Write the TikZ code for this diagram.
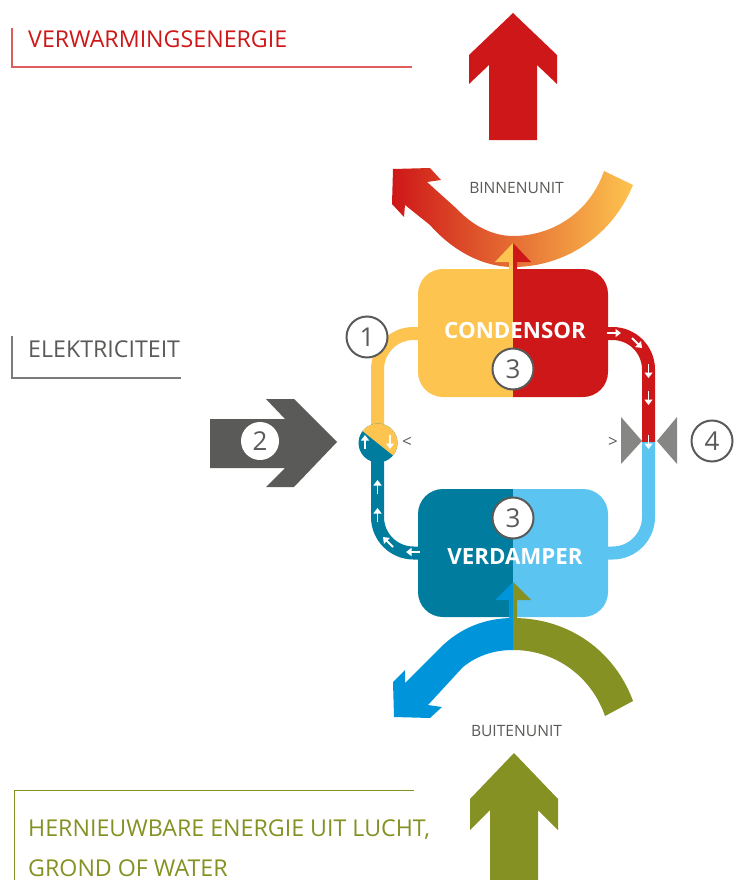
\documentclass[tikz,border=0pt]{standalone}
\usepackage{fontspec}
\setmainfont{Open Sans}
\usetikzlibrary{positioning,arrows.meta}
\definecolor{hotred}{HTML}{CE1718}
\definecolor{warmyellow}{HTML}{FDC44F}
\definecolor{coldteal}{HTML}{007C9F}
\definecolor{coldblue}{HTML}{5BC4F1}
\definecolor{darkgrey}{HTML}{5A5A58}
\definecolor{valvegrey}{HTML}{868685}
\definecolor{olive}{HTML}{859123}
\definecolor{skyblue}{HTML}{0095DA}
\tikzset{
  >={Triangle[width=8pt,length=5.5pt]},
}
\tikzstyle{pipe}=[line width=13pt,rounded corners=36pt]
\tikzstyle{flow}=[white,line width=1.8pt,->]
\tikzstyle{caption}=[anchor=base west,inner sep=0pt,font=\fontsize{23.2}{26}\selectfont]
\tikzstyle{unit}=[inner sep=0pt,text=darkgrey,font=\fontsize{15.6}{18}\selectfont]
\tikzstyle{boxlabel}=[inner sep=0pt,text=white,font=\bfseries\fontsize{22.3}{25}\selectfont]
\tikzstyle{numcirc}=[circle,draw=darkgrey,fill=white,line width=2pt,minimum size=41pt,inner sep=0pt,text=darkgrey,font=\fontsize{26}{30}\selectfont]
\tikzstyle{hint}=[inner sep=0pt,text=darkgrey,font=\fontsize{17}{19}\selectfont]
\begin{document}
\begin{tikzpicture}[x=1pt,y=-1pt]
  \useasboundingbox (0,0) rectangle (739,880);
  % big arrows
  \fill[hotred] (513,13)--(557,55)--(557,84)--(537,65)--(537,140)--(489,140)--(489,65)--(469,84)--(469,55)--cycle;
  \fill[olive] (514,753)--(558,799)--(558,830)--(538,810)--(538,880)--(490,880)--(490,810)--(470,830)--(470,799)--cycle;
  \fill[darkgrey] (210,419)--(285,419)--(266,399)--(294,399)--(337,442)--(294,487)--(266,487)--(285,468)--(210,468)--cycle;
  % caption lines
  \draw[hotred!70,line width=1.3pt] (12,28)--(12,67)--(412,67);
  \draw[darkgrey!80,line width=1.3pt] (12,336)--(12,378)--(181,378);
  \draw[olive,line width=1pt] (14,880)--(14,790)--(414,790);
  \node[caption,text=hotred] (heat) at (28,48) {VERWARMINGSENERGIE};
  \node[caption,text=darkgrey] (power) at (28,357) {ELEKTRICITEIT};
  \node[caption,text=olive] (source) at (28,836) {HERNIEUWBARE ENERGIE UIT LUCHT,};
  \node[caption,text=olive] (source2) at (28,876) {GROND OF WATER};
  % pipes
  \draw[pipe,warmyellow] (377.5,440)--(377.5,333.5)--(430,333.5);
  \draw[pipe,hotred] (600,333.5)--(648.5,333.5)--(648.5,442);
  \draw[pipe,coldblue] (648.5,442)--(648.5,553)--(600,553);
  \draw[pipe,coldteal] (377.5,446)--(377.5,553)--(430,553);
  % compressor
  \fill[coldteal] (378,443) circle (19.5);
  \begin{scope}
    \clip (378,443) circle (19.5);
    \fill[warmyellow] (350,421)--(410,469)--(410,410)--(350,410)--cycle;
  \end{scope}
  % valve
  \fill[valvegrey] (621,417)--(642,441)--(621,464)--cycle;
  \fill[valvegrey] (677,417)--(657,441)--(677,464)--cycle;
  % boxes
  \fill[warmyellow] (513,269) [rounded corners=25pt] --(418,269)--(418,397) [sharp corners] --(513,397)--cycle;
  \fill[hotred] (513,269) [rounded corners=25pt] --(608,269)--(608,397) [sharp corners] --(513,397)--cycle;
  \fill[coldteal] (513,489) [rounded corners=25pt] --(418,489)--(418,617) [sharp corners] --(513,617)--cycle;
  \fill[coldblue] (513,489) [rounded corners=25pt] --(608,489)--(608,617) [sharp corners] --(513,617)--cycle;
  % upper band
  \path[left color=hotred,right color=warmyellow]
    (604,171) .. controls (590,212) and (553,236) .. (513,236) .. controls (493,236) and (473,226) .. (457,209)
    --(427,182)--(441,180)--(430,168)--(393,169)--(392,204)--(404,217)--(405,205)--(430,225)
    .. controls (452,250) and (482,267) .. (513,267) .. controls (565,267) and (612,236) .. (633,185)--cycle;
  \fill[warmyellow] (513,243)--(495,262)--(509,262)--(509,269)--(513,269)--cycle;
  \fill[hotred] (513,243)--(531,262)--(517,262)--(517,269)--(513,269)--cycle;
  % lower band
  \fill[skyblue] (513,618) .. controls (485,618) and (460,628) .. (440,648)--(405,683)--(405,670)--(393,682)--(394,717)--(430,718)--(442,707)--(428,705)--(463,667) .. controls (478,655) and (495,650) .. (513,650)--cycle;
  \fill[olive] (513,618) .. controls (570,618) and (615,652) .. (633,701)--(605,716) .. controls (592,678) and (557,650) .. (513,650)--cycle;
  \fill[skyblue] (513,582)--(495,600)--(509,600)--(509,618)--(513,618)--cycle;
  \fill[olive] (513,582)--(531,600)--(517,600)--(517,618)--(513,618)--cycle;
  % flow direction
  \draw[flow] (607,333)--(621,333);
  \draw[flow] (632,338)--(642,348);
  \foreach \y in {364,391}
    \draw[flow] (648.5,\y)--(648.5,\y+14);
  \draw[flow] (648.5,435)--(648.5,449);
  \foreach \y in {494,522}
    \draw[flow] (377.5,\y)--(377.5,\y-14);
  \draw[flow] (393,547)--(383,537);
  \draw[flow] (420,552)--(406,552);
  \draw[flow] (365,449)--(365,435);
  \draw[flow] (390,435)--(390,449);
  % labels
  \node[boxlabel] (cond) at (515,331) {CONDENSOR};
  \node[boxlabel] (evap) at (515,557) {VERDAMPER};
  \node[unit] (inner) at (516.5,188) {BINNENUNIT};
  \node[unit] (outer) at (516.5,731) {BUITENUNIT};
  \node[hint] (hintl) at (407,442) {<};
  \node[hint] (hintr) at (613,442) {>};
  \node[numcirc] (one) at (367,337) {1};
  \node[numcirc,draw=none,minimum size=38pt] (two) at (260,441) {2};
  \node[numcirc] (threea) at (513,369) {3};
  \node[numcirc] (threeb) at (513,518) {3};
  \node[numcirc] (four) at (712,441) {4};
\end{tikzpicture}
\end{document}
